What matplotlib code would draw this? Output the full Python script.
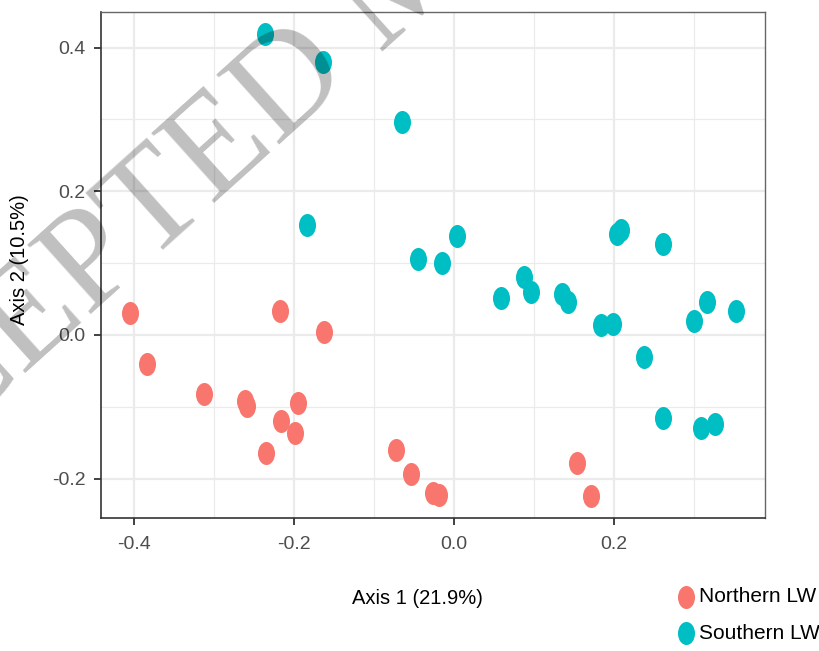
import matplotlib
matplotlib.use("Agg")
import matplotlib.pyplot as plt
from matplotlib.path import Path
from matplotlib.transforms import Affine2D
from matplotlib.ticker import MultipleLocator, FuncFormatter

# ---- data ----
north_x = [-0.405, -0.384, -0.3125, -0.261, -0.259, -0.2175, -0.216, -0.195, -0.199,
           -0.235, -0.1625, -0.0725, -0.054, -0.026, -0.019, 0.154, 0.171]
north_y = [0.031, -0.040, -0.082, -0.092, -0.099, 0.033, -0.120, -0.095, -0.136,
           -0.164, 0.004, -0.160, -0.193, -0.220, -0.223, -0.178, -0.224]
south_x = [-0.236, -0.164, -0.065, -0.184, -0.045, -0.015, 0.004, 0.059, 0.0875,
           0.096, 0.135, 0.1425, 0.184, 0.199, 0.204, 0.209, 0.261, 0.2375,
           0.261, 0.300, 0.316, 0.3525, 0.309, 0.326]
south_y = [0.419, 0.380, 0.296, 0.153, 0.106, 0.100, 0.138, 0.051, 0.081,
           0.060, 0.057, 0.046, 0.014, 0.015, 0.141, 0.146, 0.127, -0.031,
           -0.116, 0.019, 0.046, 0.033, -0.129, -0.124]
groups = ["Northern LW", "Southern LW"]
colors = ["#F8766D", "#00BFC4"]
x_label = "Axis 1 (21.9%)"
y_label = "Axis 2 (10.5%)"
watermark = "ACCEPTED MANUSCRIPT"

plt.rcParams["font.family"] = ["Liberation Sans", "DejaVu Sans"]

W, H = 819, 651
fig = plt.figure(figsize=(W / 100, H / 100), dpi=100)
ax = fig.add_axes([101 / W, 1 - 518 / H, (765 - 101) / W, (518 - 12) / H])

circ = Path.unit_circle()
ellipse = Path(Affine2D().scale(0.74, 1.0).transform(circ.vertices), circ.codes)

for xs, ys, c, g in zip([north_x, south_x], [north_y, south_y], colors, groups):
    ax.scatter(xs, ys, s=275, marker=ellipse, color=c, linewidths=0, label=g, zorder=3)

ax.set_xlim(-0.441, 0.389)
ax.set_ylim(-0.2547, 0.4495)
for axis in (ax.xaxis, ax.yaxis):
    axis.set_major_locator(MultipleLocator(0.2))
    axis.set_minor_locator(MultipleLocator(0.1))
    axis.set_major_formatter(FuncFormatter(lambda v, p: f"{v:.1f}"))

ax.grid(True, which="major", color="#ebebeb", lw=1.6, zorder=0)
ax.grid(True, which="minor", color="#ebebeb", lw=0.9, zorder=0)
ax.set_axisbelow(True)
ax.tick_params(which="major", length=5, width=1.3, color="#333333",
               labelsize=14, labelcolor="#4d4d4d")
ax.tick_params(axis="x", which="major", pad=8)
ax.tick_params(axis="y", which="major", pad=6)
ax.tick_params(which="minor", length=0)
for s in ["left", "bottom"]:
    ax.spines[s].set_color("#333333")
    ax.spines[s].set_linewidth(1.2)
for s in ["top", "right"]:
    ax.spines[s].set_color("#666666")
    ax.spines[s].set_linewidth(1.0)

ax.set_xlabel(x_label, fontsize=14.5, color="black")
ax.set_ylabel(y_label, fontsize=14.5, color="black")
ax.xaxis.set_label_coords((417 - 101) / (765 - 101), -(598 - 518) / (518 - 12))
ax.yaxis.set_label_coords(-(101 - 20) / (765 - 101), (518 - 260) / (518 - 12))
ax.xaxis.label.set_va("center")
ax.yaxis.label.set_va("center")

leg = fig.legend(loc="center left", bbox_to_anchor=(676 / W, 1 - 615 / H),
                 frameon=False, fontsize=15, handletextpad=0.1,
                 labelspacing=0.85, borderpad=0, borderaxespad=0,
                 handlelength=1.0, markerscale=1.0)

fig.text(-196 / W, 1 - 572 / H, watermark, rotation=42, rotation_mode="anchor",
         ha="left", va="baseline", fontsize=103, family="Liberation Serif",
         color="black", alpha=0.25, zorder=10)

fig.savefig("out.png", dpi=100)
